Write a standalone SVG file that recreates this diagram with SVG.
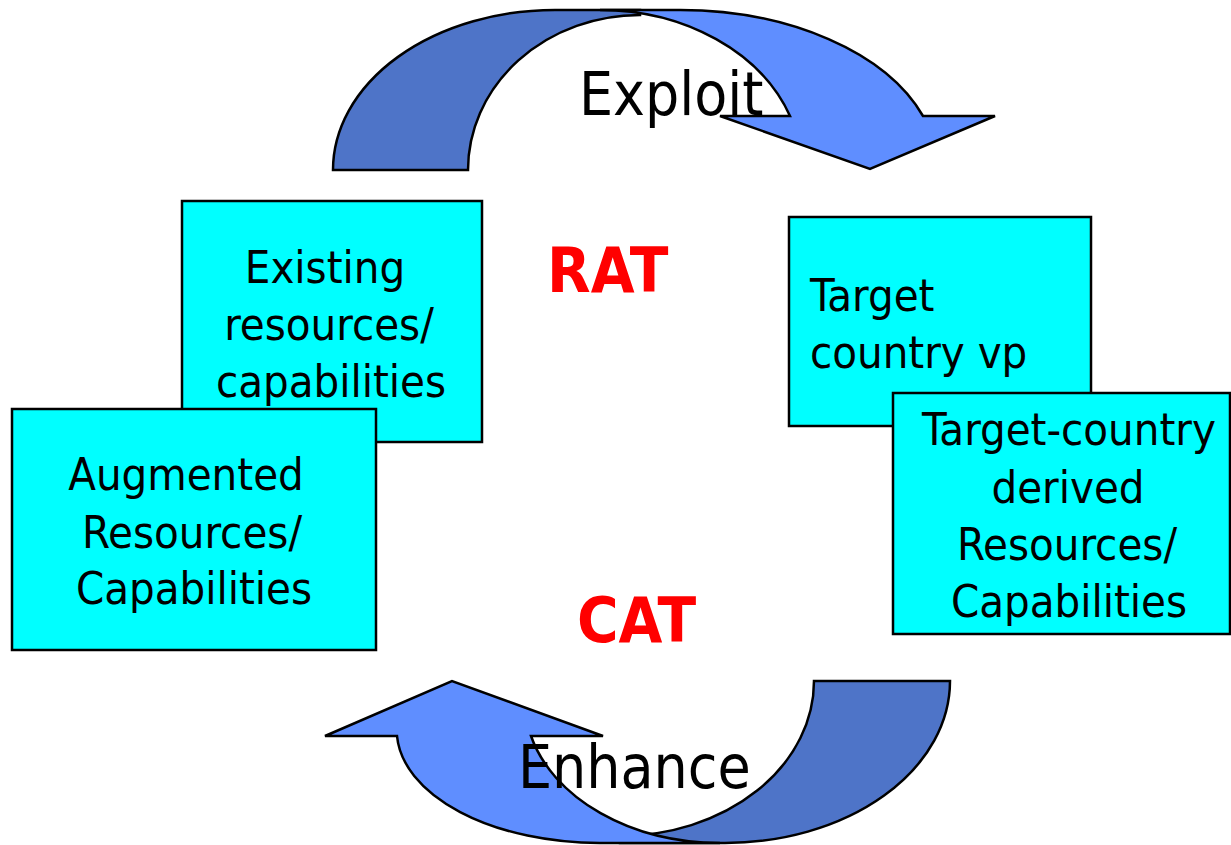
<svg xmlns="http://www.w3.org/2000/svg" width="1231" height="845" viewBox="0 0 1231 845">
  <style>
    .box { fill: #00FFFF; stroke: #000; stroke-width: 2.5; }
    .band-back { fill: #4E74C8; stroke: #000; stroke-width: 2.5; stroke-linejoin: miter; }
    .band-front { fill: #5F8EFF; stroke: #000; stroke-width: 2.5; stroke-linejoin: miter; }
    .lbl { font-family: "DejaVu Sans Condensed", "DejaVu Sans", sans-serif; font-stretch: condensed; fill: #000; }
    .box-txt { font-size: 45px; }
    .big { font-size: 60px; }
    .acr { font-size: 63px; font-weight: bold; fill: #FF0000; }
    .mid { text-anchor: middle; }
  </style>
  <rect width="1231" height="845" fill="#FFFFFF"/>

  <g id="connectors">
    <!-- upper curved arrow: back band rising on the left, front band bending down into the head -->
    <g id="exploit-arrow">
      <path class="band-back" d="M333,170 A222,160 0 0 1 555,10 L640,10 L640,15 A172,155 0 0 0 468,170 Z"/>
      <path class="band-front" d="M600,10 L680,10 A258,160 0 0 1 923,116 L995,116 L870,169 L720,116 L790,116 A202,160 0 0 0 600,10 Z"/>
    </g>
    <!-- lower curved arrow: back band dropping on the right, front band rising into the head -->
    <g id="enhance-arrow">
      <path class="band-back" d="M814,681 L950,681 A225,162 0 0 1 725,843 L620,843 L620,836 A194,155 0 0 0 814,681 Z"/>
      <path class="band-front" d="M603,736 L452,681 L325,736 L397,736 A203,113 0 0 0 600,843 L720,843 A195,143 0 0 1 531,736 Z"/>
    </g>
  </g>

  <g id="node-existing">
    <rect class="box" x="182" y="201" width="300" height="241"/>
    <text class="lbl box-txt mid" x="325" y="283">Existing</text>
    <text class="lbl box-txt mid" x="329" y="340">resources/</text>
    <text class="lbl box-txt mid" x="331" y="397">capabilities</text>
  </g>

  <g id="node-augmented">
    <rect class="box" x="12" y="409" width="364" height="241"/>
    <text class="lbl box-txt mid" x="186" y="490">Augmented</text>
    <text class="lbl box-txt mid" x="192" y="548">Resources/</text>
    <text class="lbl box-txt mid" x="194" y="604">Capabilities</text>
  </g>

  <g id="node-target-vp">
    <rect class="box" x="789" y="217" width="302" height="209"/>
    <text class="lbl box-txt" x="810" y="311">Target</text>
    <text class="lbl box-txt" x="810" y="368">country vp</text>
  </g>

  <g id="node-target-derived">
    <rect class="box" x="893" y="393" width="337" height="241"/>
    <text class="lbl box-txt mid" x="1069" y="445">Target-country</text>
    <text class="lbl box-txt mid" x="1068" y="503">derived</text>
    <text class="lbl box-txt mid" x="1067" y="560">Resources/</text>
    <text class="lbl box-txt mid" x="1069" y="617">Capabilities</text>
  </g>

  <g id="labels">
    <text class="lbl big" x="579" y="115">Exploit</text>
    <text class="lbl big" x="518" y="788">Enhance</text>
    <text class="lbl acr" x="547" y="292">RAT</text>
    <text class="lbl acr" x="577" y="642">CAT</text>
  </g>
</svg>
